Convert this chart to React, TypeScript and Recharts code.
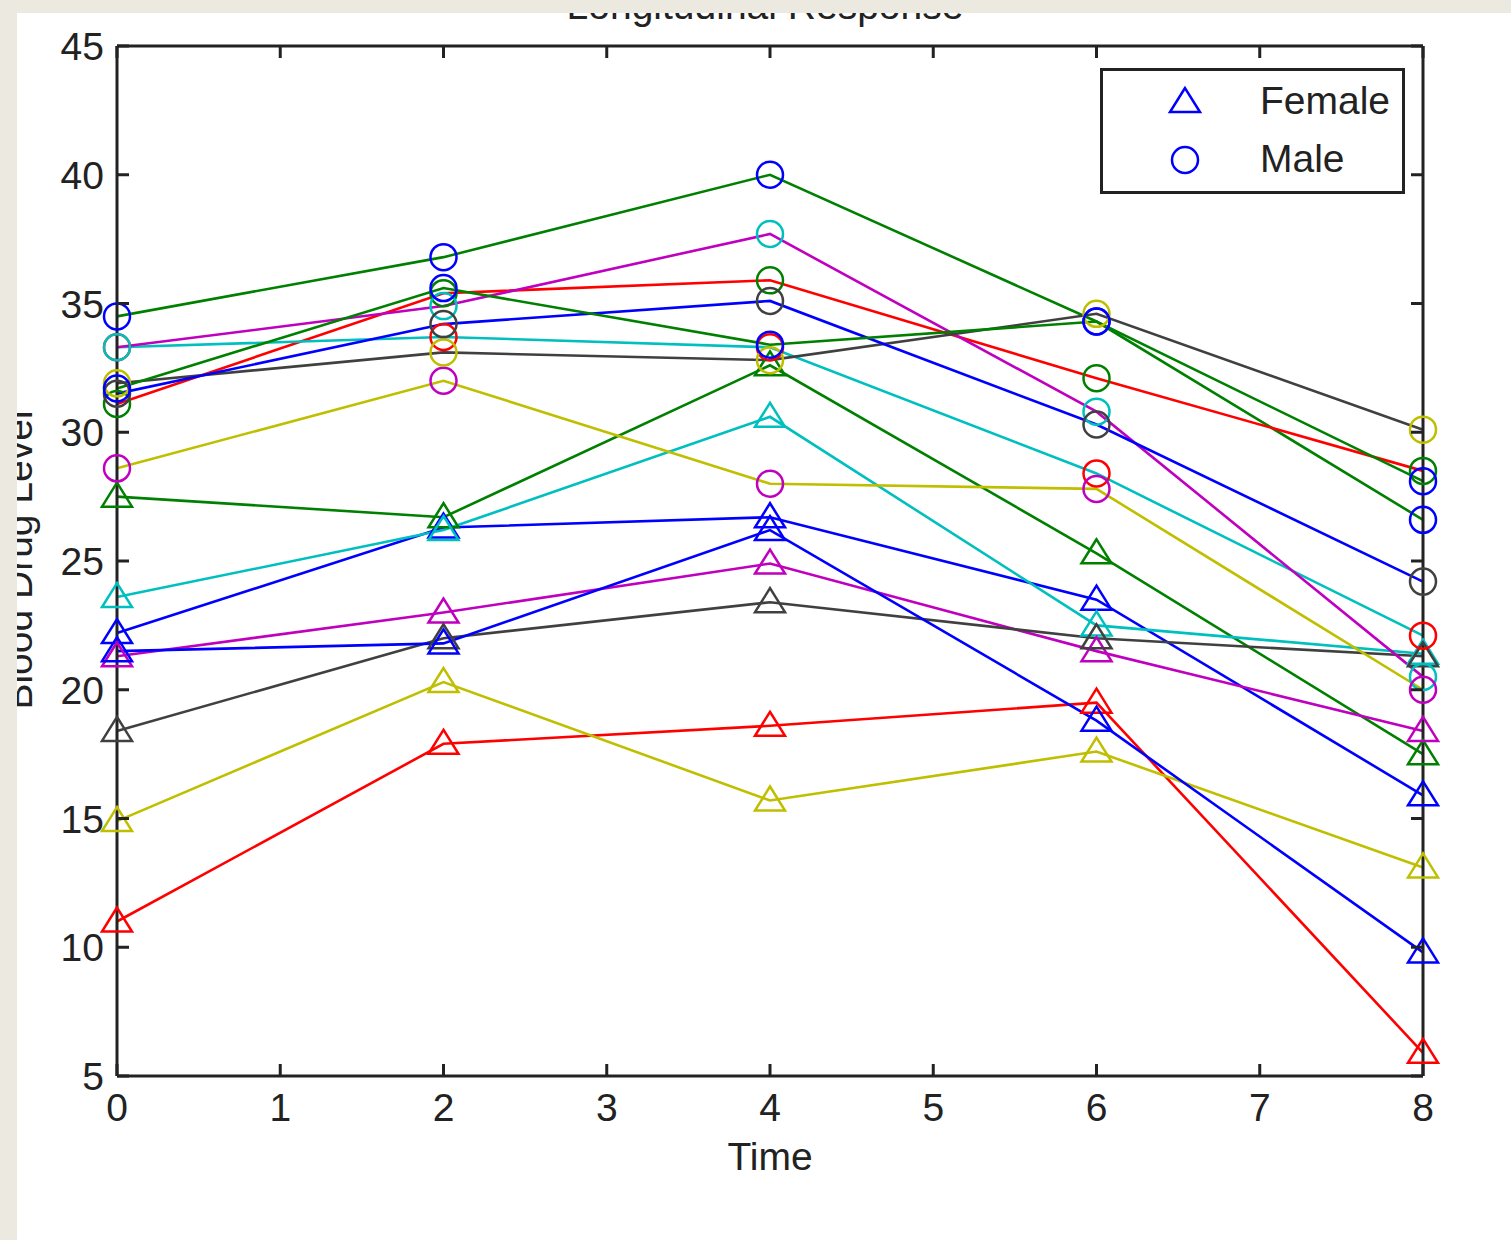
import React from "react";
import { ComposedChart, Line, XAxis, YAxis } from "recharts";

// time points (hours) and axis ticks
const times = [0, 2, 4, 6, 8];
const xTicks = [0, 1, 2, 3, 4, 5, 6, 7, 8];
const yTicks = [5, 10, 15, 20, 25, 30, 35, 40, 45];

// MATLAB default colour letters
const COLORS: Record<string, string> = {
  b: "#0000ff",
  g: "#008000",
  r: "#ff0000",
  c: "#00bfbf",
  m: "#bf00bf",
  y: "#bfbf00",
  k: "#404040",
};

// female subjects (triangles), one row per subject, values at each time
const female1 = [22.2, 26.3, 26.7, 23.5, 15.9];
const female2 = [27.5, 26.7, 32.6, 25.3, 17.5];
const female3 = [11.0, 17.9, 18.6, 19.5, 5.9];
const female4 = [23.6, 26.2, 30.6, 22.5, 21.4];
const female5 = [21.3, 23.0, 24.9, 21.5, 18.4];
const female6 = [14.9, 20.3, 15.7, 17.6, 13.1];
const female7 = [18.4, 22.0, 23.4, 22.0, 21.3];
const female8 = [21.5, 21.8, 26.2, 18.8, 9.8];
const femaleSubjects = [female1, female2, female3, female4, female5, female6, female7, female8];
const femaleColors = ["b", "g", "r", "c", "m", "y", "k", "b"];

// male subjects (circles); line colour is shifted one step from the marker colour
const male1 = [34.5, 36.8, 40.0, 34.3, 26.6];
const male2 = [31.1, 35.4, 35.9, 32.1, 28.5];
const male3 = [33.3, 33.7, 33.3, 28.4, 22.1];
const male4 = [33.3, 34.9, 37.7, 30.8, 20.5];
const male5 = [28.6, 32.0, 28.0, 27.8, 20.0];
const male6 = [31.9, 33.1, 32.8, 34.6, 30.1];
const male7 = [31.5, 34.2, 35.1, 30.3, 24.2];
const male8 = [31.7, 35.6, 33.4, 34.3, 28.1];
const maleSubjects = [male1, male2, male3, male4, male5, male6, male7, male8];
const maleMarkerColors = ["b", "g", "r", "c", "m", "y", "k", "b"];
const maleLineColors = ["g", "r", "c", "m", "y", "k", "b", "g"];

const rows = times.map((t, i) => {
  const row: Record<string, number> = { time: t };
  femaleSubjects.forEach((s, j) => (row[`f${j}`] = s[i]));
  maleSubjects.forEach((s, j) => (row[`m${j}`] = s[i]));
  return row;
});

const FONT = '"Liberation Sans", Arial, sans-serif';
const INK = "#222";
const BEIGE = "#ece9e1";
const TICK_LEN = 12;
const X_MARGIN = 17;
const Y_MARGIN = 13;

function Triangle({ cx, cy, color }: { cx: number; cy: number; color: string }) {
  return (
    <polygon
      points={`${cx},${cy - 14} ${cx - 15},${cy + 10} ${cx + 15},${cy + 10}`}
      fill="none"
      stroke={color}
      strokeWidth={2.5}
    />
  );
}

function Circle({ cx, cy, color }: { cx: number; cy: number; color: string }) {
  return <circle cx={cx} cy={cy} r={13} fill="none" stroke={color} strokeWidth={2.5} />;
}

function marker(shape: "tri" | "circ", color: string, id: string) {
  return (props: any) => {
    const { cx, cy, index } = props;
    const key = `${id}-${index}`;
    if (cx == null || cy == null) return <g key={key} />;
    return (
      <g key={key}>
        {shape === "tri" ? <Triangle cx={cx} cy={cy} color={color} /> : <Circle cx={cx} cy={cy} color={color} />}
      </g>
    );
  };
}

// tick renderers: label plus an inward tick mark (MATLAB style)
function BottomTick(props: any) {
  const { x, y, payload } = props;
  const ay = y - X_MARGIN;
  return (
    <g>
      <line x1={x} y1={ay} x2={x} y2={ay - TICK_LEN} stroke={INK} strokeWidth={3} />
      <text x={x} y={y} dy="0.72em" textAnchor="middle" fontSize={39} fill={INK} fontFamily={FONT}>
        {payload.value}
      </text>
    </g>
  );
}

function LeftTick(props: any) {
  const { x, y, payload } = props;
  const ax = x + Y_MARGIN;
  return (
    <g>
      <line x1={ax} y1={y} x2={ax + TICK_LEN} y2={y} stroke={INK} strokeWidth={3} />
      <text x={x} y={y} dy="0.36em" textAnchor="end" fontSize={39} fill={INK} fontFamily={FONT}>
        {payload.value}
      </text>
    </g>
  );
}

function TopTick(props: any) {
  const { x, y } = props;
  const ay = y + 2;
  return <line x1={x} y1={ay} x2={x} y2={ay + TICK_LEN} stroke={INK} strokeWidth={3} />;
}

function RightTick(props: any) {
  const { x, y } = props;
  const ax = x - 2;
  return <line x1={ax} y1={y} x2={ax - TICK_LEN} y2={y} stroke={INK} strokeWidth={3} />;
}

export default function App() {
  return (
    <div
      style={{
        position: "absolute",
        left: 0,
        top: 0,
        width: 1511,
        height: 1240,
        background: "#fff",
        overflow: "hidden",
        fontFamily: FONT,
      }}
    >
      <div style={{ position: "absolute", left: 0, top: 0 }}>
        <ComposedChart width={1511} height={1240} data={rows} margin={{ top: 45, right: 87, bottom: 104, left: 57 }}>
          <XAxis
            dataKey="time"
            type="number"
            domain={[0, 8]}
            ticks={xTicks}
            height={60}
            tickSize={0}
            tickMargin={X_MARGIN}
            tick={BottomTick}
            axisLine={{ stroke: INK, strokeWidth: 3 }}
            tickLine={false}
            label={{ value: "Time", position: "bottom", offset: 6, fontSize: 39, fill: INK, fontFamily: FONT }}
          />
          <XAxis
            xAxisId="top"
            orientation="top"
            dataKey="time"
            type="number"
            domain={[0, 8]}
            ticks={xTicks}
            height={1}
            tickSize={0}
            tickMargin={2}
            tick={TopTick}
            axisLine={{ stroke: INK, strokeWidth: 3 }}
            tickLine={false}
          />
          <YAxis
            type="number"
            domain={[5, 45]}
            ticks={yTicks}
            width={60}
            tickSize={0}
            tickMargin={Y_MARGIN}
            tick={LeftTick}
            axisLine={{ stroke: INK, strokeWidth: 3 }}
            tickLine={false}
          />
          <YAxis
            yAxisId="right"
            orientation="right"
            type="number"
            domain={[5, 45]}
            ticks={yTicks}
            width={1}
            tickSize={0}
            tickMargin={2}
            tick={RightTick}
            axisLine={{ stroke: INK, strokeWidth: 3 }}
            tickLine={false}
          />

          {femaleSubjects.map((_, j) => (
            <Line
              key={`fl${j}`}
              dataKey={`f${j}`}
              stroke={COLORS[femaleColors[j]]}
              strokeWidth={2.6}
              dot={false}
              activeDot={false}
              isAnimationActive={false}
            />
          ))}
          {maleSubjects.map((_, j) => (
            <Line
              key={`ml${j}`}
              dataKey={`m${j}`}
              stroke={COLORS[maleLineColors[j]]}
              strokeWidth={2.6}
              dot={false}
              activeDot={false}
              isAnimationActive={false}
            />
          ))}
          {femaleSubjects.map((_, j) => (
            <Line
              key={`fm${j}`}
              xAxisId="top"
              yAxisId="right"
              dataKey={`f${j}`}
              stroke="none"
              dot={marker("tri", COLORS[femaleColors[j]], `fm${j}`)}
              activeDot={false}
              isAnimationActive={false}
            />
          ))}
          {maleSubjects.map((_, j) => (
            <Line
              key={`mm${j}`}
              xAxisId="top"
              yAxisId="right"
              dataKey={`m${j}`}
              stroke="none"
              dot={marker("circ", COLORS[maleMarkerColors[j]], `mm${j}`)}
              activeDot={false}
              isAnimationActive={false}
            />
          ))}
        </ComposedChart>
      </div>

      {/* title, mostly hidden under the window frame */}
      <div
        style={{
          position: "absolute",
          left: 565,
          width: 400,
          top: -14,
          textAlign: "center",
          fontSize: 39,
          lineHeight: "39px",
          color: INK,
          whiteSpace: "nowrap",
        }}
      >
        Longitudinal Response
      </div>

      {/* y label, rotated and clipped by the frame */}
      <div
        style={{
          position: "absolute",
          left: 19 - 200,
          top: 560 - 20,
          width: 400,
          height: 40,
          textAlign: "center",
          fontSize: 39,
          lineHeight: "40px",
          color: INK,
          whiteSpace: "nowrap",
          transform: "rotate(-90deg)",
        }}
      >
        Blood Drug Level
      </div>

      {/* legend */}
      <div
        style={{
          position: "absolute",
          left: 1100,
          top: 68,
          width: 299,
          height: 120,
          border: `3px solid ${INK}`,
          background: "#fff",
        }}
      >
        <svg width={299} height={120} style={{ position: "absolute", left: 0, top: 0 }}>
          <Triangle cx={82} cy={31} color={COLORS.b} />
          <Circle cx={82} cy={89} color={COLORS.b} />
        </svg>
        <div style={{ position: "absolute", left: 157, top: 8, fontSize: 39, lineHeight: "44px", color: INK }}>
          Female
        </div>
        <div style={{ position: "absolute", left: 157, top: 66, fontSize: 39, lineHeight: "44px", color: INK }}>
          Male
        </div>
      </div>

      {/* window frame strips */}
      <div style={{ position: "absolute", left: 0, top: 0, width: 1511, height: 13, background: BEIGE }} />
      <div style={{ position: "absolute", left: 0, top: 0, width: 17, height: 1240, background: BEIGE }} />
    </div>
  );
}
